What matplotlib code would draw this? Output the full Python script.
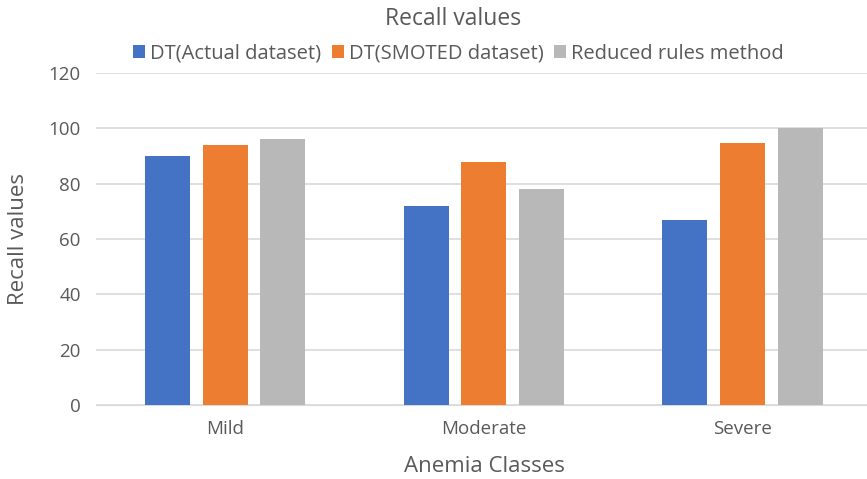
import numpy as np
from matplotlib import pyplot as plt

plt.rcParams['font.family'] = ['Open Sans', 'DejaVu Sans']

classes = ['Mild', 'Moderate', 'Severe']
series_names = ['DT(Actual dataset)', 'DT(SMOTED dataset)', 'Reduced rules method']
dt_actual = [90, 72, 66.7]
dt_smoted = [93.8, 87.9, 94.8]
reduced_rules = [96.3, 78.1, 100]
y_ticks = [0, 20, 40, 60, 80, 100, 120]

colors = ['#4472C4', '#ED7D31', '#B8B8B8']
txt = '#595959'

fig = plt.figure(figsize=(8.67, 4.79), dpi=100)
# plot area runs a little past the right edge, like the original
ax = fig.add_axes([0.1107, 0.1545, 0.895, 0.6931])

x = np.arange(len(classes))
w = 0.174
step = 0.223
for i, (vals, name) in enumerate(zip([dt_actual, dt_smoted, reduced_rules], series_names)):
	ax.bar(x + (i - 1) * step, vals, width=w, color=colors[i], label=name, zorder=3)

ax.set_xlim(-0.5, 2.5)
ax.set_ylim(0, 120)
ax.set_yticks(y_ticks)
ax.grid(axis='y', color='#D9D9D9', linewidth=1.2, zorder=0)
for s in ['top', 'right', 'left']:
	ax.spines[s].set_visible(False)
ax.spines['bottom'].set_color('#D9D9D9')
ax.tick_params(axis='both', length=0, labelsize=13.5, colors=txt)
ax.tick_params(axis='y', pad=11)
ax.tick_params(axis='x', pad=11)
ax.set_xticks(x)
ax.set_xticklabels(classes)

ax.set_ylabel('Recall values', fontsize=16, color=txt, labelpad=14)
ax.set_xlabel('Anemia Classes', fontsize=16, color=txt, labelpad=13)
fig.text(0.522, 0.96, 'Recall values', ha='center', va='center', fontsize=16.5, color=txt)
ax.legend(loc='center', bbox_to_anchor=(0.467, 1.058), ncol=3, frameon=False, fontsize=14.5,
	handlelength=0.6, handleheight=0.6, handletextpad=0.25, columnspacing=0.5, labelcolor=txt)

fig.savefig('out.png')
